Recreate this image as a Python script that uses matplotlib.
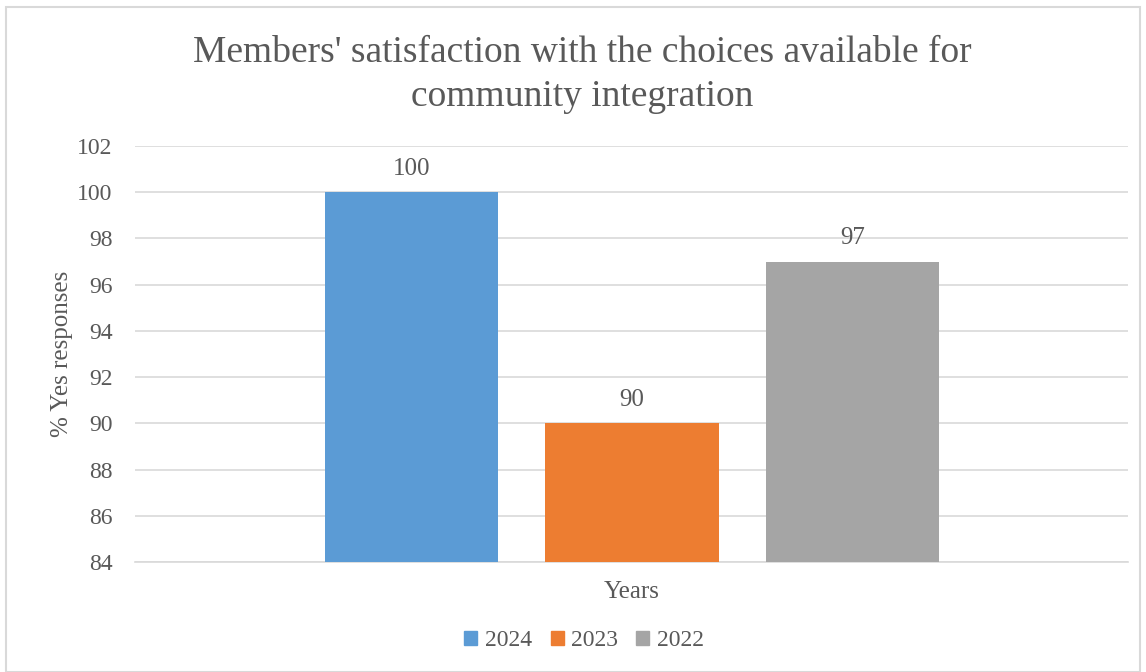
import matplotlib.pyplot as plt
from matplotlib.patches import Rectangle

years = ['2024', '2023', '2022']
values = [100, 90, 97]
colors = ['#5B9BD5', '#ED7D31', '#A5A5A5']
yticks = [84, 86, 88, 90, 92, 94, 96, 98, 100, 102]

plt.rcParams['font.family'] = ['Liberation Serif', 'DejaVu Serif']
text_color = '#595959'

fig = plt.figure(figsize=(11.46, 6.72), dpi=100)
W, H = 1146, 672
ax = fig.add_axes([135 / W, 1 - 562 / H, (1128 - 135) / W, (562 - 146) / H])

pos = list(range(len(years)))
bars = ax.bar(pos, [v - yticks[0] for v in values], bottom=yticks[0],
              width=0.785, color=colors, label=years, zorder=3)
for p, v in zip(pos, values):
    ax.text(p, v + 0.55, str(v), ha='center', va='bottom', fontsize=18, color=text_color)

ax.set_xlim(-1.254, 3.249)
ax.set_ylim(84, 102)
ax.set_yticks(yticks)
ax.set_xticks([])
ax.tick_params(axis='y', length=0, labelsize=17, labelcolor=text_color, pad=16)
ax.grid(axis='y', color='#D9D9D9', linewidth=1.2, zorder=0)
for s in ['top', 'right', 'left']:
    ax.spines[s].set_visible(False)
ax.spines['bottom'].set_color('#D9D9D9')
ax.spines['bottom'].set_linewidth(1.2)

ax.set_ylabel('% Yes responses', fontsize=18, color=text_color, labelpad=3)
ax.set_xlabel('Years', fontsize=18, color=text_color, labelpad=14)

fig.text(582 / W, 1 - 75 / H, "Members' satisfaction with the choices available for\ncommunity integration",
         ha='center', va='center', fontsize=27, color=text_color, linespacing=1.35)

handles = [Rectangle((0, 0), 1, 1, color=c) for c in colors]
fig.legend(handles, years, loc='center', bbox_to_anchor=(584 / W, 1 - 641 / H), ncol=3,
           frameon=False, fontsize=17, handlelength=0.55, handleheight=0.55,
           handletextpad=0.3, columnspacing=0.8, labelcolor=text_color)

fig.patches.append(Rectangle((6 / W, 0), (1140 - 6) / W, 1 - 7 / H, transform=fig.transFigure,
                             fill=False, edgecolor='#D9D9D9', linewidth=1.5))

fig.savefig('out.png', dpi=100)
